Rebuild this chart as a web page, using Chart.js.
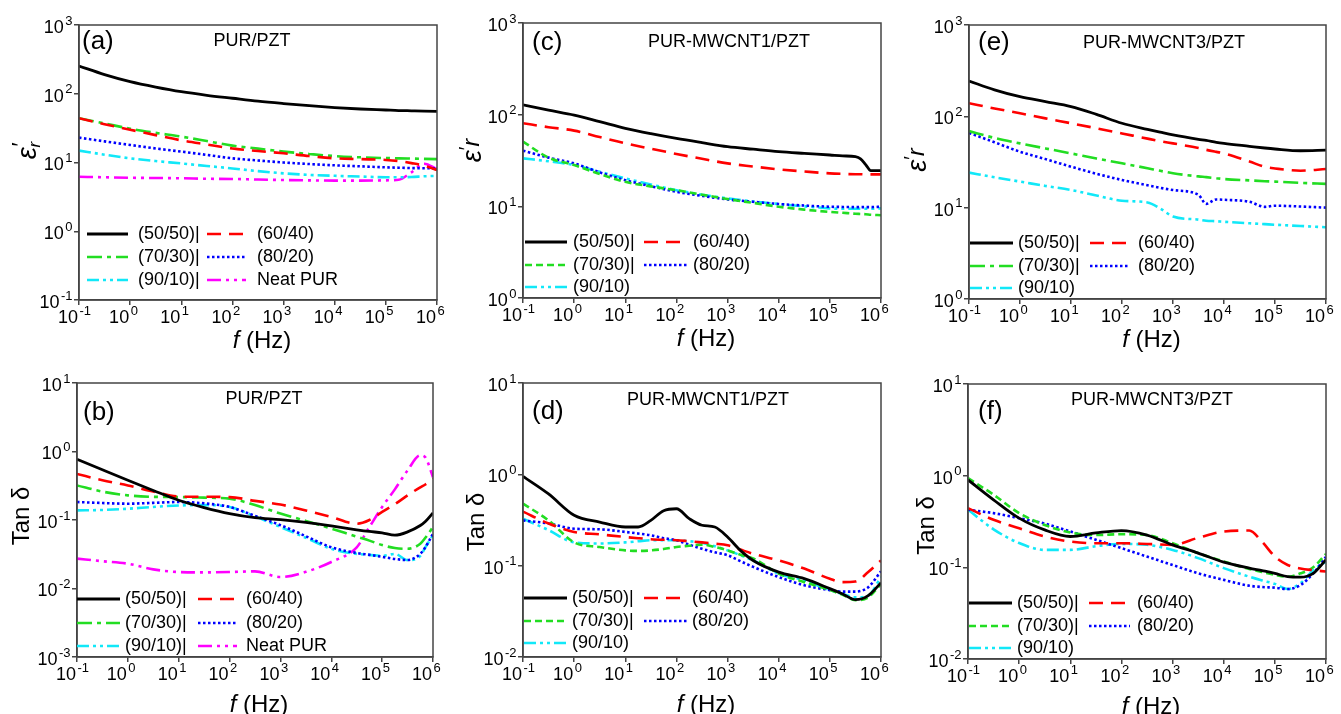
<!DOCTYPE html>
<html><head><meta charset="utf-8">
<script src="https://cdn.jsdelivr.net/npm/chart.js@4.4.1/dist/chart.umd.min.js"></script>
<style>
html,body{margin:0;padding:0;background:#fff;width:1341px;height:714px;overflow:hidden;position:relative}
canvas{position:absolute}
</style></head><body>
<script>
// ---------- DATA ----------
const seriesNames = ['(50/50)','(60/40)','(70/30)','(80/20)','(90/10)','Neat PUR'];
const legendTextA = ['(50/50)|','(60/40)','(70/30)|','(80/20)','(90/10)|','Neat PUR'];
const legendTextC = ['(50/50)|','(60/40)','(70/30)|','(80/20)','(90/10)'];
const xTickValues = [0.1,1,10,100,1000,10000,100000,1000000];
const yTicksA = [0.1,1,10,100,1000];
const yTicksCE = [1,10,100,1000];
const yTicksB = [0.001,0.01,0.1,1,10];
const yTicksDF = [0.01,0.1,1,10];

// (a) PUR/PZT  eps'
const freqA = [0.1,0.316,1,3.16,10,31.6,100,316,1000,3162,10000,31623,100000,177828,316228,562341,1000000];
const a_5050 = [253,190,150,125,107,95,86,78,72,67,63,60,58,57,56.5,56,55.5];
const a_6040 = [44,36,30,25,21,18.3,16,14.7,13.6,12.4,11.5,11.2,10.9,10.5,9.8,9.0,7.8];
const a_7030 = [44,37,31,27,23.8,20.5,17.6,15.9,14.4,13.3,12.4,11.9,11.6,11.5,11.4,11.3,11.2];
const a_8020 = [23,20.3,18,16,14.4,12.9,11.5,10.7,10,9.5,9.1,8.8,8.5,8.4,8.3,8.25,8.2];
const a_9010 = [14.9,13,11.5,10.5,9.7,8.9,8.2,7.5,6.95,6.6,6.4,6.25,6.1,6.1,6.15,6.3,6.4];
const a_neat = [6.2,6.1,6.0,5.95,5.9,5.8,5.76,5.65,5.56,5.5,5.45,5.45,5.5,5.6,7.2,9.6,8.0];

// (b) PUR/PZT  tan delta
const freqB = [0.1,0.316,1,3.16,10,31.6,100,316,1000,3162,10000,31623,56234,100000,177828,316228,562341,707946,1000000];
const b_5050 = [0.77,0.54,0.38,0.27,0.194,0.152,0.124,0.108,0.101,0.092,0.082,0.072,0.068,0.065,0.060,0.067,0.083,0.095,0.127];
const b_6040 = [0.47,0.38,0.32,0.26,0.22,0.218,0.216,0.19,0.168,0.138,0.111,0.088,0.1,0.131,0.17,0.229,0.30,0.33,0.40];
const b_7030 = [0.32,0.26,0.229,0.218,0.216,0.212,0.205,0.165,0.124,0.097,0.075,0.057,0.05,0.043,0.039,0.038,0.045,0.055,0.079];
const b_8020 = [0.183,0.177,0.173,0.178,0.183,0.175,0.155,0.115,0.084,0.058,0.040,0.033,0.031,0.029,0.027,0.026,0.032,0.040,0.063];
const b_9010 = [0.138,0.14,0.146,0.155,0.163,0.165,0.155,0.113,0.079,0.055,0.038,0.032,0.031,0.030,0.032,0.026,0.030,0.040,0.060];
const b_neat = [0.0273,0.025,0.023,0.019,0.0174,0.0172,0.0174,0.0178,0.0147,0.0175,0.0244,0.04,0.079,0.155,0.28,0.53,0.88,0.82,0.42];

// (c) PUR-MWCNT1/PZT eps'
const freqC = [0.1,0.316,1,3.16,10,31.6,100,316,1000,3162,10000,31623,100000,177828,316228,398107,501187,630957,1000000];
const c_5050 = [128,112,99,84,71,62,55,49.5,44.8,42,39.5,37.8,36.3,35.5,34.8,33,28.5,24.5,24.5];
const c_6040 = [80.6,73,67,57,48.7,42.5,37.3,33,29.4,27.2,25.3,24,22.9,22.6,22.4,22.4,22.3,22.3,22.3];
const c_7030 = [50.8,34,28.2,22.5,18.5,16.5,15.0,13.4,12.0,10.9,9.9,9.2,8.7,8.5,8.3,8.25,8.2,8.1,8.0];
const c_8020 = [40.5,34,29.4,23.5,19.3,16.6,14.4,13,11.9,11.2,10.6,10.2,9.9,9.85,9.8,9.8,9.8,9.8,9.9];
const c_9010 = [33.4,31,28.2,23.8,20.2,17.3,15,13.4,12.2,11.3,10.6,10,9.5,9.4,9.4,9.4,9.4,9.4,9.5];

// (d) PUR-MWCNT1/PZT tan delta
const freqD = [0.1,0.316,1,3.16,10,17.8,31.6,56.2,100,178,316,562,1000,1778,3162,10000,31623,100000,177828,316228,562341,1000000];
const d_5050 = [0.95,0.61,0.356,0.30,0.265,0.265,0.313,0.40,0.42,0.327,0.277,0.265,0.206,0.147,0.114,0.085,0.072,0.056,0.049,0.0424,0.047,0.065];
const d_6040 = [0.39,0.29,0.234,0.22,0.206,0.2,0.195,0.192,0.19,0.185,0.18,0.174,0.167,0.15,0.135,0.114,0.093,0.072,0.066,0.067,0.085,0.114];
const d_7030 = [0.478,0.313,0.18,0.16,0.147,0.145,0.147,0.152,0.16,0.165,0.17,0.16,0.147,0.132,0.12,0.082,0.066,0.054,0.048,0.042,0.045,0.063];
const d_8020 = [0.313,0.29,0.254,0.25,0.234,0.225,0.215,0.2,0.19,0.17,0.153,0.14,0.13,0.112,0.097,0.075,0.061,0.054,0.052,0.052,0.058,0.087];
const d_9010 = [0.327,0.245,0.18,0.175,0.18,0.185,0.19,0.19,0.19,0.185,0.178,0.163,0.147,0.13,0.114,0.082,0.069,0.054,0.049,0.045,0.047,0.075];

// (e) PUR-MWCNT3/PZT eps'
const freqE = [0.1,0.316,1,3.16,10,31.6,100,316,562,1000,3162,4467,7079,10000,31623,63096,100000,316228,1000000];
const e_5050 = [244,195,164,145,128,105,84,72,67,62.5,56,54.5,52,50.6,47,45,43.9,42,42.7];
const e_6040 = [139,122,108,95,84,74,65,57,53.5,50.6,45,43,40.8,39.3,32,28,26.9,25.4,26.5];
const e_7030 = [69,58,50.6,44.5,39.3,34.5,30.6,27,25.3,23.8,22,21.6,21,20.6,19.9,19.5,19.3,18.7,18.2];
const e_8020 = [66,52,41,34,28.1,23.5,20.1,17.6,16.5,15.6,13.8,11.0,12.3,12.2,11.6,10.2,10.5,10.3,10];
const e_9010 = [24.2,21.5,19.3,17.3,15.6,13.6,11.9,11.4,9.8,8.0,7.4,7.2,7.1,7.0,6.75,6.6,6.5,6.3,6.1];

// (f) PUR-MWCNT3/PZT tan delta
const freqF = [0.1,0.316,1,3.16,10,31.6,100,316,1000,3162,10000,31623,56234,100000,177828,316228,562341,1000000];
const f_5050 = [0.90,0.546,0.344,0.256,0.217,0.237,0.252,0.225,0.176,0.143,0.114,0.098,0.092,0.086,0.079,0.078,0.086,0.121];
const f_6040 = [0.443,0.33,0.267,0.217,0.191,0.183,0.183,0.18,0.176,0.21,0.246,0.252,0.19,0.131,0.106,0.097,0.093,0.09];
const f_7030 = [0.94,0.62,0.39,0.29,0.24,0.225,0.23,0.225,0.183,0.143,0.116,0.096,0.089,0.083,0.079,0.086,0.1,0.14];
const f_8020 = [0.425,0.39,0.344,0.30,0.246,0.2,0.162,0.131,0.106,0.086,0.073,0.063,0.061,0.06,0.058,0.064,0.086,0.13];
const f_9010 = [0.425,0.26,0.184,0.155,0.155,0.17,0.18,0.176,0.155,0.126,0.098,0.079,0.072,0.066,0.058,0.067,0.093,0.115];

// ---------- STYLES ----------
const FONT = '"Liberation Sans", Arial, Helvetica, sans-serif';
const AXIS_COLOR = '#444444';
const lineStyles = {
  black:   {color:'#000000', dash:[], w:2.8},
  red:     {color:'#ff0000', dash:[14,8], w:2.6},
  greenDD: {color:'#22dd22', dash:[15,5,4,5], w:2.6},
  greenD:  {color:'#22dd22', dash:[7,4], w:2.6},
  blue:    {color:'#0000ff', dash:[2.5,2.5], w:2.6},
  cyan:    {color:'#11e8f8', dash:[12,4,3,4,3,4], w:2.6},
  mag:     {color:'#ff00ff', dash:[14,5,3,5,3,5], w:2.6}
};

const panels = [
  {area:{l:79,t:25,r:437,b:300}, freq:freqA,
   series:[[a_5050,'black'],[a_6040,'red'],[a_7030,'greenDD'],[a_8020,'blue'],[a_9010,'cyan'],[a_neat,'mag']],
   legendText:legendTextA, yMin:0.1, yMax:1000, yTicks:yTicksA,
   letter:'(a)', lx:3, ly:16.5, title:'PUR/PZT', tx:173, ty:16,
   yTitle:'epsSub', ytx:51, yty:-12, xty:41.5,
   leg:{c1:[8,49,59], c2:[128,167,178], rows:[-66,-43,-20]}},
  {area:{l:77,t:383,r:433,b:657}, freq:freqB,
   series:[[b_5050,'black'],[b_6040,'red'],[b_7030,'greenDD'],[b_8020,'blue'],[b_9010,'cyan'],[b_neat,'mag']],
   legendText:legendTextA, yMin:0.001, yMax:10, yTicks:yTicksB,
   letter:'(b)', lx:6, ly:30, title:'PUR/PZT', tx:187, ty:16,
   yTitle:'tan', ytx:55, yty:-4, xty:48,
   leg:{c1:[0,43,48], c2:[121,160,169], rows:[-58,-34,-11]}},
  {area:{l:523,t:23,r:881,b:298}, freq:freqC,
   series:[[c_5050,'black'],[c_6040,'red'],[c_7030,'greenD'],[c_8020,'blue'],[c_9010,'cyan']],
   legendText:legendTextC, yMin:1, yMax:1000, yTicks:yTicksCE,
   letter:'(c)', lx:9, ly:19.5, title:'PUR-MWCNT1/PZT', tx:206, ty:19,
   yTitle:'eps', ytx:50, yty:-10, xty:41.5,
   leg:{c1:[2,44,50], c2:[121,165,170], rows:[-56,-33,-11]}},
  {area:{l:523,t:383,r:881,b:657}, freq:freqD,
   series:[[d_5050,'black'],[d_6040,'red'],[d_7030,'greenD'],[d_8020,'blue'],[d_9010,'cyan']],
   legendText:legendTextC, yMin:0.01, yMax:10, yTicks:yTicksDF,
   letter:'(d)', lx:9, ly:28.5, title:'PUR-MWCNT1/PZT', tx:185, ty:17,
   yTitle:'tan', ytx:46, yty:2, xty:48,
   leg:{c1:[1,44,49], c2:[121,165,169], rows:[-59,-36,-14]}},
  {area:{l:969,t:25,r:1326,b:299}, freq:freqE,
   series:[[e_5050,'black'],[e_6040,'red'],[e_7030,'greenDD'],[e_8020,'blue'],[e_9010,'cyan']],
   legendText:legendTextC, yMin:1, yMax:1000, yTicks:yTicksCE,
   letter:'(e)', lx:9, ly:18, title:'PUR-MWCNT3/PZT', tx:195, ty:18,
   yTitle:'eps', ytx:51, yty:-2, xty:41.5,
   leg:{c1:[1,44,49], c2:[121,161,169], rows:[-56,-33,-11]}},
  {area:{l:968,t:384,r:1326,b:659}, freq:freqF,
   series:[[f_5050,'black'],[f_6040,'red'],[f_7030,'greenD'],[f_8020,'blue'],[f_9010,'cyan']],
   legendText:legendTextC, yMin:0.01, yMax:10, yTicks:yTicksDF,
   letter:'(f)', lx:10, ly:27.5, title:'PUR-MWCNT3/PZT', tx:184, ty:16,
   yTitle:'tan', ytx:41, yty:4, xty:48,
   leg:{c1:[1,44,49], c2:[121,162,169], rows:[-56,-33,-11]}}
];

// ---------- HELPERS ----------
function drawSegs(ctx, segs, cx, cy){
  let total = 0;
  segs.forEach(s => { ctx.font = s.font; s.w = ctx.measureText(s.t).width; if (!s.noAdv) total += s.w; });
  let x = cx - total/2;
  segs.forEach(s => {
    ctx.font = s.font;
    ctx.fillText(s.t, x + (s.dx||0), cy + (s.dy||0));
    if (!s.noAdv) x += s.w;
  });
}
// power-of-ten tick label: "10" with a raised exponent
function drawPow(ctx, value, x, y, mode){
  const e = String(Math.round(Math.log10(value)));
  const baseFont = '18px ' + FONT, expFont = '13px ' + FONT;
  ctx.font = baseFont; const wb = ctx.measureText('10').width;
  ctx.font = expFont; const we = ctx.measureText(e).width;
  let xb;
  if (mode === 'x') xb = x - 1 - wb;          // "10" ends at the tick, exponent follows
  else xb = x - we - 1 - wb;                  // right aligned
  ctx.textAlign = 'left'; ctx.textBaseline = 'middle';
  ctx.font = baseFont; ctx.fillText('10', xb, y);
  ctx.font = expFont; ctx.fillText(e, xb + wb + 1.5, y - 7);
}

const decorPlugin = {
  id: 'decor',
  afterDraw(chart, args, opts){
    const p = opts.panel;
    const ca = chart.chartArea;
    const ctx = chart.ctx;
    ctx.save();
    // frame
    ctx.strokeStyle = AXIS_COLOR; ctx.lineWidth = 1.5; ctx.setLineDash([]);
    ctx.strokeRect(ca.left, ca.top, ca.right - ca.left, ca.bottom - ca.top);
    ctx.fillStyle = '#000';
    // tick labels from the library's scales
    const xs = chart.scales.x, ys = chart.scales.y;
    xs.ticks.forEach(t => drawPow(ctx, t.value, xs.getPixelForValue(t.value), ca.bottom + 18.5, 'x'));
    ys.ticks.forEach(t => drawPow(ctx, t.value, ca.left - 7, ys.getPixelForValue(t.value) + 3, 'y'));
    ctx.textBaseline = 'middle';
    // panel letter
    ctx.textAlign = 'left';
    ctx.font = '26px ' + FONT;
    ctx.fillText(p.letter, ca.left + p.lx, ca.top + p.ly);
    // panel title
    ctx.textAlign = 'center';
    ctx.font = '18px ' + FONT;
    ctx.fillText(p.title, ca.left + p.tx, ca.top + p.ty);
    // legend
    ctx.textAlign = 'left';
    const ds = chart.data.datasets;
    p.legendText.forEach((txt, i) => {
      const row = Math.floor(i/2), col = i % 2 === 0 ? p.leg.c1 : p.leg.c2;
      const y = ca.bottom + p.leg.rows[row];
      const d = ds[i];
      ctx.save();
      ctx.strokeStyle = d.borderColor; ctx.lineWidth = d.borderWidth;
      ctx.setLineDash(d.borderDash || []);
      ctx.beginPath(); ctx.moveTo(ca.left + col[0], y); ctx.lineTo(ca.left + col[1], y); ctx.stroke();
      ctx.restore();
      ctx.font = '18px ' + FONT;
      ctx.fillStyle = '#000';
      ctx.fillText(txt, ca.left + col[2], y);
    });
    // x title
    drawSegs(ctx, [{t:'f', font:'italic 24px ' + FONT}, {t:' (Hz)', font:'24px ' + FONT}],
      (ca.left + ca.right)/2 + 4, ca.bottom + p.xty);
    // y title (rotated)
    ctx.save();
    ctx.translate(ca.left - p.ytx, (ca.top + ca.bottom)/2 + p.yty);
    ctx.rotate(-Math.PI/2);
    if (p.yTitle === 'tan') {
      drawSegs(ctx, [{t:'Tan \u03B4', font:'24px ' + FONT}], 0, 0);
    } else if (p.yTitle === 'epsSub') {
      drawSegs(ctx, [{t:'\u03B5', font:'italic 27px ' + FONT},
                     {t:'\u2032', font:'22px ' + FONT, dy:-7, dx:1, noAdv:true},
                     {t:'r', font:'italic 17px ' + FONT, dy:7}], 0, 0);
    } else {
      drawSegs(ctx, [{t:'\u03B5', font:'italic 27px ' + FONT},
                     {t:'\u2032', font:'20px ' + FONT, dy:-6},
                     {t:'r', font:'italic 23px ' + FONT, dy:0}], 0, 0);
    }
    ctx.restore();
    ctx.restore();
  }
};

const AXW_MAX = 85, PADT = 20, PADR = 22, AXH = 60;

function makePanel(p){
  const AXW = Math.min(AXW_MAX, p.area.l);
  const W = p.area.r - p.area.l + AXW + PADR;
  const H = p.area.b - p.area.t + PADT + AXH;
  const cv = document.createElement('canvas');
  cv.width = W; cv.height = H;
  cv.style.width = W + 'px'; cv.style.height = H + 'px';
  cv.style.left = (p.area.l - AXW) + 'px';
  cv.style.top = (p.area.t - PADT) + 'px';
  document.body.appendChild(cv);
  const datasets = p.series.map((s, i) => {
    const st = lineStyles[s[1]];
    return {
      label: seriesNames[i],
      data: p.freq.map((f, k) => ({x: f, y: s[0][k]})),
      borderColor: st.color, backgroundColor: st.color,
      borderDash: st.dash, borderWidth: st.w,
      pointRadius: 0, fill: false,
      cubicInterpolationMode: 'monotone'
    };
  });
  new Chart(cv, {
    type: 'line',
    data: {datasets},
    options: {
      responsive: false, animation: false, devicePixelRatio: 1,
      layout: {padding: {left: 0, top: PADT, right: PADR, bottom: 0}},
      plugins: {legend: {display: false}, tooltip: {enabled: false}, decor: {panel: p}},
      scales: {
        x: {
          type: 'logarithmic', position: 'bottom', min: 0.1, max: 1000000,
          afterBuildTicks: s => { s.ticks = xTickValues.map(v => ({value: v})); },
          afterFit: s => { s.height = AXH; },
          ticks: {display: false, autoSkip: false},
          grid: {drawOnChartArea: false, drawTicks: true, tickLength: 5, color: AXIS_COLOR, lineWidth: 1.5},
          border: {display: true, color: AXIS_COLOR, width: 1.5},
          title: {display: false}
        },
        y: {
          type: 'logarithmic', position: 'left', min: p.yMin, max: p.yMax,
          afterBuildTicks: s => { s.ticks = p.yTicks.map(v => ({value: v})); },
          afterFit: s => { s.width = AXW; },
          ticks: {display: false, autoSkip: false},
          grid: {drawOnChartArea: false, drawTicks: true, tickLength: 5, color: AXIS_COLOR, lineWidth: 1.5},
          border: {display: true, color: AXIS_COLOR, width: 1.5},
          title: {display: false}
        }
      }
    },
    plugins: [decorPlugin]
  });
}
panels.forEach(makePanel);
</script>
</body></html>
